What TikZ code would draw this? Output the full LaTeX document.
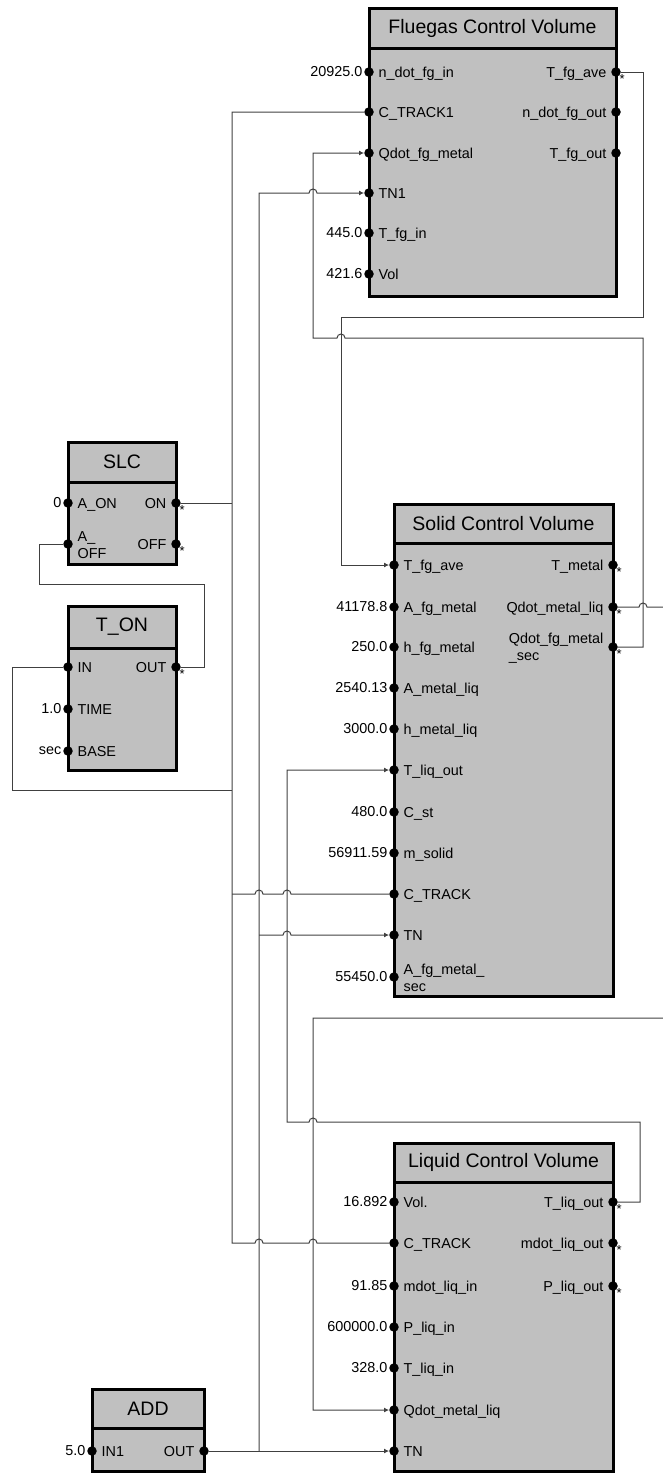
\documentclass[tikz,border=0pt]{standalone}
\usepackage{fontspec}
\setmainfont{Liberation Sans}
\usepackage{xcolor}
\usetikzlibrary{positioning,arrows.meta}
\definecolor{blockfill}{HTML}{C0C0C0}
\definecolor{wiregray}{HTML}{404040}
\newcommand{\portfont}{\fontsize{14.4}{16.5}\selectfont}
\newcommand{\titlefont}{\fontsize{19.5}{22}\selectfont}
% name, x, y, width, height, title height, title
\newcommand{\ctrlblock}[7]{%
  \node[blk,minimum width=#4,minimum height=#5] (#1) at (#2,#3) {};
  \node[blk,minimum width=#4,minimum height=#6] (#1-t) at (#2,#3) {\titlefont #7};}
\newcommand{\portin}[4]{%
  \node[port] (#1) at (#2,#3) {};
  \node[lab,right=4.5pt of #1] (#1-l) {#4};}
\newcommand{\portout}[4]{%
  \node[port] (#1) at (#2,#3) {};
  \node[lab,left=4.5pt of #1] (#1-l) {#4};}
\newcommand{\portval}[2]{\node[val,left=1.5pt of #1] (#1-v) {#2};}
\newcommand{\portmark}[1]{\node[astx] (#1-s) at ([xshift=3.5pt,yshift=-2.5pt]#1.center) {*};}

\begin{document}
\begin{tikzpicture}[x=1pt,y=-1pt,
  blk/.style={draw=black,fill=blockfill,line width=3pt,anchor=north west,outer sep=0pt,inner sep=0pt},
  port/.style={circle,fill=black,inner sep=0pt,minimum size=9.5pt},
  lab/.style={font=\portfont,inner sep=0pt,text height=10pt,text depth=3pt,yshift=-2pt},
  lab2/.style={font=\portfont,inner sep=0pt,align=left,yshift=-1pt},
  val/.style={font=\portfont,inner sep=0pt},
  astx/.style={font=\fontsize{13}{13}\selectfont,inner sep=0pt,anchor=north west},
  wire/.style={draw=wiregray,line width=1pt},
  arr/.style={wire,-{Latex[length=5pt,width=5pt]}}]
  \useasboundingbox (0,0) rectangle (663,1475);
  \clip (0,0) rectangle (663,1475);
  % fluegas block
  \ctrlblock{fg}{369}{8}{247}{288}{40}{Fluegas Control Volume}
  \portin{fg-nin}{369}{72}{n\_dot\_fg\_in} \portval{fg-nin}{20925.0}
  \portin{fg-ct1}{369}{112}{C\_TRACK1}
  \portin{fg-qfg}{369}{153}{Qdot\_fg\_metal}
  \portin{fg-tn1}{369}{193}{TN1}
  \portin{fg-tin}{369}{233}{T\_fg\_in} \portval{fg-tin}{445.0}
  \portin{fg-vol}{369}{274}{Vol} \portval{fg-vol}{421.6}
  \portout{fg-ave}{616}{72}{T\_fg\_ave} \portmark{fg-ave}
  \portout{fg-nout}{616}{112}{n\_dot\_fg\_out}
  \portout{fg-tout}{616}{153}{T\_fg\_out}
  % solid block
  \ctrlblock{sd}{394}{504}{219}{492}{39}{Solid Control Volume}
  \portin{sd-fga}{394}{565}{T\_fg\_ave}
  \portin{sd-afm}{394}{607}{A\_fg\_metal} \portval{sd-afm}{41178.8}
  \portin{sd-hfm}{394}{647}{h\_fg\_metal} \portval{sd-hfm}{250.0}
  \portin{sd-aml}{394}{688}{A\_metal\_liq} \portval{sd-aml}{2540.13}
  \portin{sd-hml}{394}{729}{h\_metal\_liq} \portval{sd-hml}{3000.0}
  \portin{sd-tlo}{394}{770}{T\_liq\_out}
  \portin{sd-cst}{394}{812}{C\_st} \portval{sd-cst}{480.0}
  \portin{sd-msd}{394}{853}{m\_solid} \portval{sd-msd}{56911.59}
  \portin{sd-ct}{394}{894}{C\_TRACK}
  \portin{sd-tn}{394}{935}{TN}
  \node[port] (sd-afs) at (394,977) {};
  \node[lab2,right=4.5pt of sd-afs] (sd-afs-l) {A\_fg\_metal\_\\sec};
  \portval{sd-afs}{55450.0}
  \portout{sd-tm}{613}{565}{T\_metal} \portmark{sd-tm}
  \portout{sd-qml}{613}{607}{Qdot\_metal\_liq} \portmark{sd-qml}
  \node[port] (sd-qfs) at (613,647) {};
  \node[lab2,left=4.5pt of sd-qfs] (sd-qfs-l) {Qdot\_fg\_metal\\\_sec};
  \portmark{sd-qfs}
  % liquid block
  \ctrlblock{lq}{394}{1143}{219}{328}{39}{Liquid Control Volume}
  \portin{lq-vol}{394}{1202}{Vol.} \portval{lq-vol}{16.892}
  \portin{lq-ct}{394}{1243}{C\_TRACK}
  \portin{lq-min}{394}{1286}{mdot\_liq\_in} \portval{lq-min}{91.85}
  \portin{lq-pin}{394}{1327}{P\_liq\_in} \portval{lq-pin}{600000.0}
  \portin{lq-tin}{394}{1368}{T\_liq\_in} \portval{lq-tin}{328.0}
  \portin{lq-qml}{394}{1410}{Qdot\_metal\_liq}
  \portin{lq-tn}{394}{1451}{TN}
  \portout{lq-tlo}{613}{1202}{T\_liq\_out} \portmark{lq-tlo}
  \portout{lq-mout}{613}{1243}{mdot\_liq\_out} \portmark{lq-mout}
  \portout{lq-pout}{613}{1286}{P\_liq\_out} \portmark{lq-pout}
  % logic blocks
  \ctrlblock{slc}{68}{442}{108}{122}{40}{SLC}
  \portin{slc-aon}{68}{503}{A\_ON} \portval{slc-aon}{0}
  \node[port] (slc-aoff) at (68,544) {};
  \node[lab2,right=4.5pt of slc-aoff] (slc-aoff-l) {A\_\\OFF};
  \portout{slc-on}{176}{503}{ON} \portmark{slc-on}
  \portout{slc-off}{176}{544}{OFF} \portmark{slc-off}
  \ctrlblock{ton}{68}{606}{108}{164}{42}{T\_ON}
  \portin{ton-in}{68}{667}{IN}
  \portin{ton-time}{68}{709}{TIME} \portval{ton-time}{1.0}
  \portin{ton-base}{68}{751}{BASE} \portval{ton-base}{sec}
  \portout{ton-out}{176}{667}{OUT} \portmark{ton-out}
  \ctrlblock{add}{92}{1389}{112}{82}{39}{ADD}
  \portin{add-in1}{92}{1451}{IN1} \portval{add-in1}{5.0}
  \portout{add-out}{204}{1451}{OUT}
  % heat and temperature loops
  \draw[arr] (fg-ave) -- (643,72) -- (643,317) -- (341,317) |- (sd-fga);
  \draw[arr] (sd-qfs) -- (643,647) -- (643,338) -- (345,338) arc[start angle=0,end angle=180,radius=4pt] -- (313,338) |- (fg-qfg);
  \draw[arr] (sd-qml) -- (639,607) arc[start angle=180,end angle=0,radius=4pt] -- (680,607) -- (680,1018) -- (313,1018) |- (lq-qml);
  \draw[arr] (lq-tlo) -- (640,1202) -- (640,1122) -- (317,1122) arc[start angle=0,end angle=180,radius=4pt] -- (287,1122) |- (sd-tlo);
  % time step bus
  \draw[arr] (add-out) -- (lq-tn);
  \draw[arr] (259,1451) -- (259,193) -- (309,193) arc[start angle=180,end angle=0,radius=4pt] -- (fg-tn1);
  \draw[arr] (259,935) -- (283,935) arc[start angle=180,end angle=0,radius=4pt] -- (sd-tn);
  % track bus
  \draw[wire] (slc-on) -- (232,503);
  \draw[wire] (fg-ct1) -| (232,1243) -- (255,1243) arc[start angle=180,end angle=0,radius=4pt] -- (309,1243) arc[start angle=180,end angle=0,radius=4pt] -- (lq-ct);
  \draw[wire] (232,894) -- (255,894) arc[start angle=180,end angle=0,radius=4pt] -- (283,894) arc[start angle=180,end angle=0,radius=4pt] -- (sd-ct);
  \draw[wire] (ton-in) -- (12,667) -- (12,790) -- (232,790);
  \draw[wire] (ton-out) -- (204,667) -- (204,584) -- (39,584) |- (slc-aoff);
\end{tikzpicture}
\end{document}
